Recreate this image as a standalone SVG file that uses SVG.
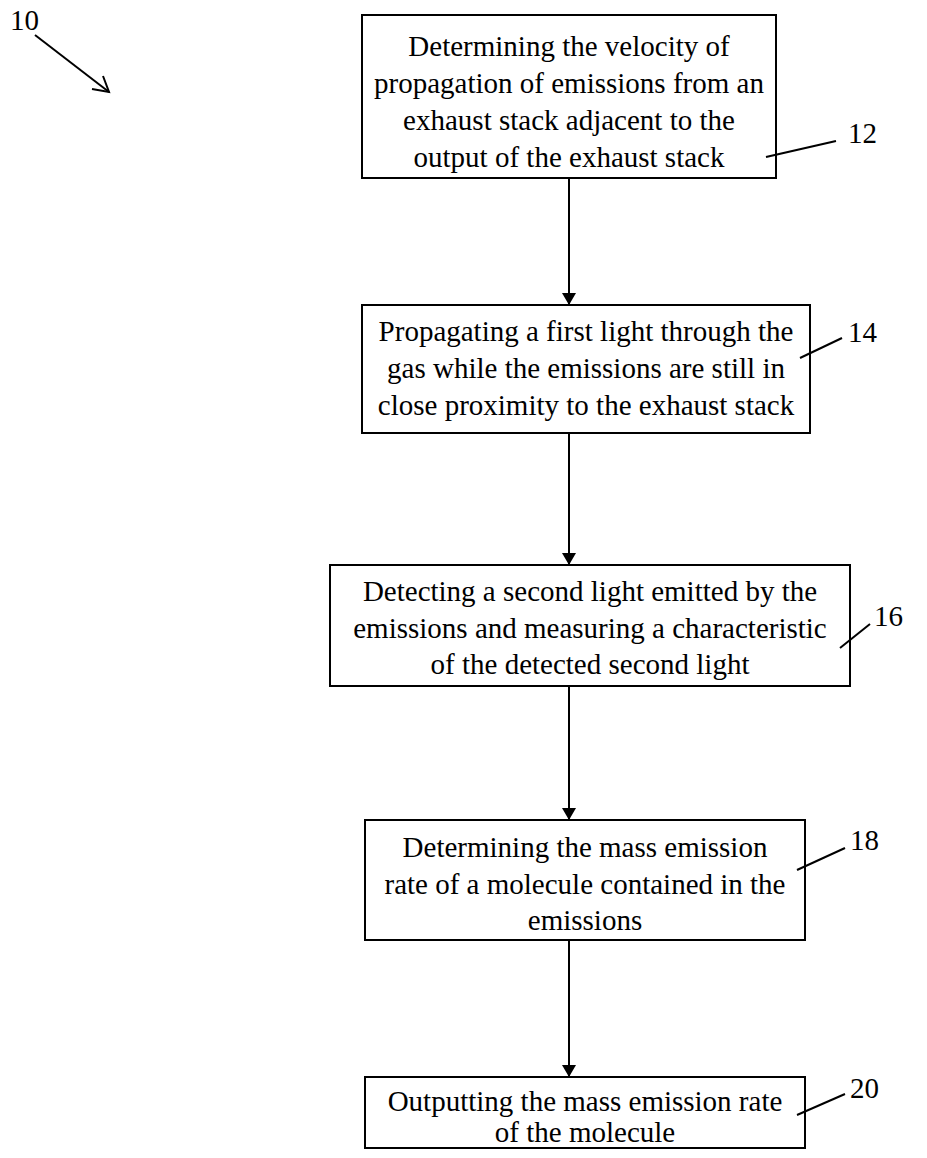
<svg xmlns="http://www.w3.org/2000/svg" width="927" height="1158" viewBox="0 0 927 1158">
<defs>
<style>
.box{fill:#fff;stroke:#000;stroke-width:2}
.t{font-family:"Liberation Serif","Times New Roman",serif;font-size:29px;fill:#000;text-anchor:middle}
.n{font-family:"Liberation Serif","Times New Roman",serif;font-size:29px;fill:#000}
.c{stroke:#000;stroke-width:2;fill:none}
</style>
<marker id="ah" viewBox="0 0 12 14" refX="12" refY="7" markerWidth="12" markerHeight="14" markerUnits="userSpaceOnUse" orient="auto">
<path d="M0,0 L12,7 L0,14 Z" fill="#000"/>
</marker>
</defs>
<rect width="927" height="1158" fill="#fff"/>
<g id="ref10">
<text class="n" x="10" y="30">10</text>
<line class="c" x1="35" y1="35" x2="109" y2="92"/>
<polyline class="c" points="92,89 109,92 103,76"/>
</g>
<g id="connectors">
<line class="c" x1="569" y1="178" x2="569" y2="305" marker-end="url(#ah)"/>
<line class="c" x1="569" y1="433" x2="569" y2="565" marker-end="url(#ah)"/>
<line class="c" x1="569" y1="686" x2="569" y2="820" marker-end="url(#ah)"/>
<line class="c" x1="569" y1="940" x2="569" y2="1077" marker-end="url(#ah)"/>
</g>
<g id="n12">
<rect class="box" x="362" y="15" width="414" height="163"/>
<text class="t" x="569" y="56">Determining the velocity of</text>
<text class="t" x="569" y="93">propagation of emissions from an</text>
<text class="t" x="569" y="130">exhaust stack adjacent to the</text>
<text class="t" x="569" y="167">output of the exhaust stack</text>
<line class="c" x1="766" y1="157" x2="836" y2="141"/>
<text class="n" x="848" y="143">12</text>
</g>
<g id="n14">
<rect class="box" x="362" y="305" width="448" height="128"/>
<text class="t" x="586" y="341">Propagating a first light through the</text>
<text class="t" x="586" y="378">gas while the emissions are still in</text>
<text class="t" x="586" y="415">close proximity to the exhaust stack</text>
<line class="c" x1="800" y1="358" x2="842" y2="338"/>
<text class="n" x="848" y="342">14</text>
</g>
<g id="n16">
<rect class="box" x="330" y="565" width="520" height="121"/>
<text class="t" x="590" y="601">Detecting a second light emitted by the</text>
<text class="t" x="590" y="638">emissions and measuring a characteristic</text>
<text class="t" x="590" y="674">of the detected second light</text>
<line class="c" x1="840" y1="648" x2="870" y2="624"/>
<text class="n" x="874" y="626">16</text>
</g>
<g id="n18">
<rect class="box" x="365" y="820" width="440" height="120"/>
<text class="t" x="585" y="857">Determining the mass emission</text>
<text class="t" x="585" y="894">rate of a molecule contained in the</text>
<text class="t" x="585" y="930">emissions</text>
<line class="c" x1="797" y1="870" x2="845" y2="848"/>
<text class="n" x="850" y="850">18</text>
</g>
<g id="n20">
<rect class="box" x="365" y="1077" width="440" height="71"/>
<text class="t" x="585" y="1111">Outputting the mass emission rate</text>
<text class="t" x="585" y="1142">of the molecule</text>
<line class="c" x1="797" y1="1115" x2="845" y2="1094"/>
<text class="n" x="850" y="1098">20</text>
</g>
</svg>
